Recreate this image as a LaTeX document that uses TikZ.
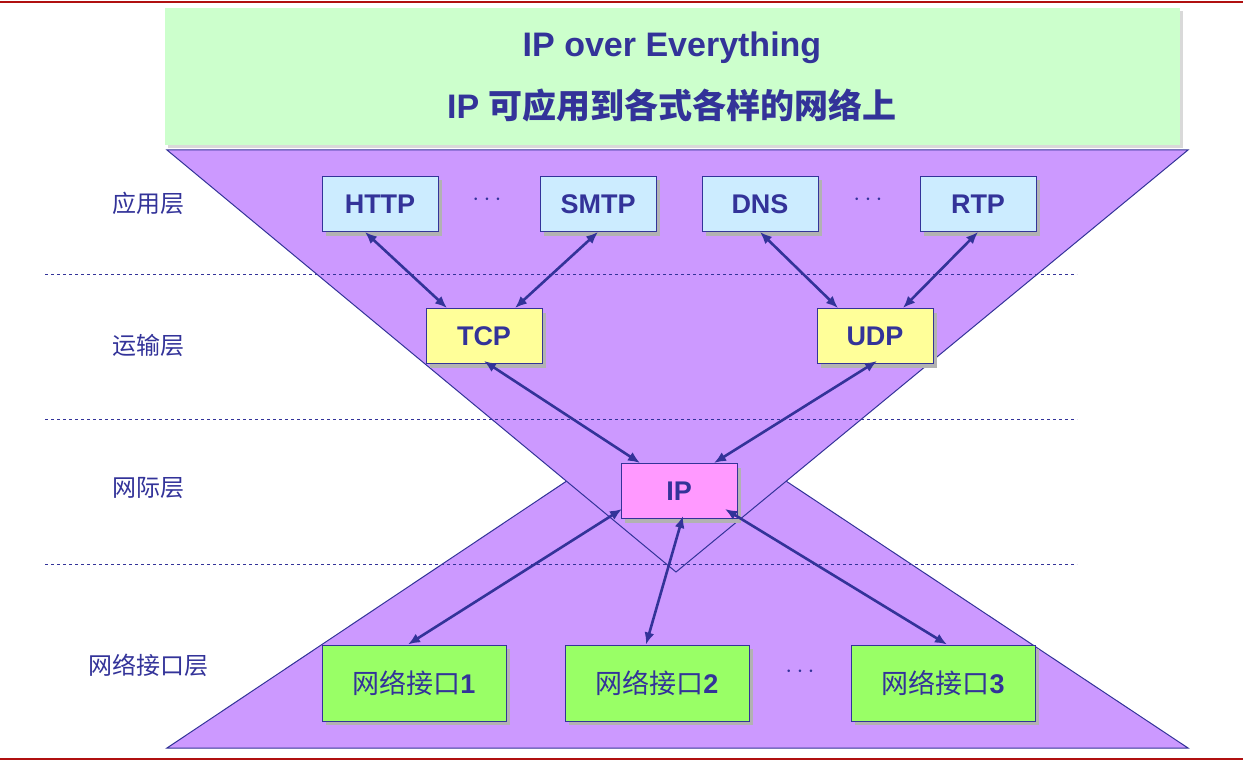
\documentclass[tikz,border=0pt]{standalone}
\usepackage{fontspec}
\setmainfont{Liberation Sans}
\newfontfamily\cjk{Noto Sans CJK SC}
\usetikzlibrary{shadows,arrows.meta}
\definecolor{dblue}{HTML}{333399}
\definecolor{purp}{HTML}{CC99FF}
\definecolor{lgreen}{HTML}{CCFFCC}
\definecolor{lblue}{HTML}{CCECFF}
\definecolor{lyel}{HTML}{FFFF99}
\definecolor{pink}{HTML}{FF99FF}
\definecolor{bgreen}{HTML}{99FF66}
\definecolor{dred}{HTML}{B01010}
\tikzset{
 box/.style={draw=dblue,line width=1pt,minimum height=55pt,minimum width=116pt,text=dblue,font=\fontsize{27}{30}\selectfont\bfseries,inner sep=0pt,drop shadow={shadow xshift=4pt,shadow yshift=-4pt,fill=gray!60,opacity=1}},
 ifbox/.style={box,minimum width=184pt,minimum height=76pt,font=\fontsize{27}{30}\selectfont\cjk},
 lay/.style={text=dblue,font=\fontsize{24}{28}\selectfont\cjk},
 arr/.style={draw=dblue,line width=2.6pt,{Latex[length=12pt,width=10pt]}-{Latex[length=12pt,width=10pt]}},
 dl/.style={draw=dblue,dashed,line width=0.6pt},
 dots/.style={text=dblue,font=\fontsize{24}{28}\selectfont\bfseries}
}
\begin{document}
\begin{tikzpicture}[x=1pt,y=-1pt]
\useasboundingbox (0,0) rectangle (1243,765);
\draw[dred,line width=2pt] (0,2) -- (1243,2);
\draw[dred,line width=2pt] (0,759) -- (1243,759);
\node[draw=none,fill=lgreen,minimum width=1015pt,minimum height=137pt,anchor=north west,inner sep=0pt,drop shadow={shadow xshift=3pt,shadow yshift=-3pt,fill=gray!30,opacity=1}] (title) at (165,8) {};
\node[text=dblue,font=\fontsize{34}{40}\selectfont\bfseries] (t1) at (672,48) {IP over Everything};
\node[text=dblue,font=\fontsize{34}{40}\selectfont\bfseries] (t2) at (672,106) {IP {\cjk 可应用到各式各样的网络上}};
\fill[purp] (167,748) -- (676,408) -- (1188,748) -- cycle;
\draw[dblue,line width=1pt] (167,748) -- (676,408) -- (1188,748) -- cycle;
\filldraw[fill=purp,draw=dblue,line width=1pt] (167,150) -- (1188,150) -- (676,572) -- cycle;
\foreach \y in {274,419,564} \draw[dl] (45,\y) -- (1077,\y);
\node[lay] (l1) at (148,203) {应用层};
\node[lay] (l2) at (148,345) {运输层};
\node[lay] (l3) at (148,488) {网际层};
\node[lay] (l4) at (148,665) {网络接口层};
\node[box,fill=lblue] (http) at (380,204) {HTTP};
\node[box,fill=lblue] (smtp) at (598,204) {SMTP};
\node[box,fill=lblue] (dns) at (760,204) {DNS};
\node[box,fill=lblue] (rtp) at (978,204) {RTP};
\node[dots] (d1) at (487,200) {$\cdots$};
\node[dots] (d2) at (868,200) {$\cdots$};
\node[box,fill=lyel] (tcp) at (484,336) {TCP};
\node[box,fill=lyel] (udp) at (875,336) {UDP};
\node[box,fill=pink] (ip) at (679,491) {IP};
\node[ifbox,fill=bgreen] (if1) at (414,683) {网络接口{\bfseries\sffamily\fontspec{Liberation Sans} 1}};
\node[ifbox,fill=bgreen] (if2) at (657,683) {网络接口{\fontspec{Liberation Sans}\bfseries 2}};
\node[ifbox,fill=bgreen] (if3) at (943,683) {网络接口{\fontspec{Liberation Sans}\bfseries 3}};
\node[dots] (d3) at (800,672) {$\cdots$};
\draw[arr] ([xshift=-15pt]http.south) -- ([xshift=-37pt]tcp.north);
\draw[arr] (smtp.south) -- ([xshift=31pt]tcp.north);
\draw[arr] (dns.south) -- ([xshift=-37pt]udp.north);
\draw[arr] (rtp.south) -- ([xshift=28pt]udp.north);
\draw[arr] ([shift={(0pt,3pt)}]tcp.south) -- ([xshift=-39pt]ip.north);
\draw[arr] ([shift={(2pt,3pt)}]udp.south) -- ([xshift=35pt]ip.north);
\draw[arr] ([shift={(-57pt,10pt)}]ip.south) -- ([xshift=-6pt]if1.north);
\draw[arr] ([shift={(4pt,3pt)}]ip.south) -- ([xshift=-11pt]if2.north);
\draw[arr] ([shift={(46pt,10pt)}]ip.south) -- ([xshift=4pt]if3.north);
\end{tikzpicture}
\end{document}
